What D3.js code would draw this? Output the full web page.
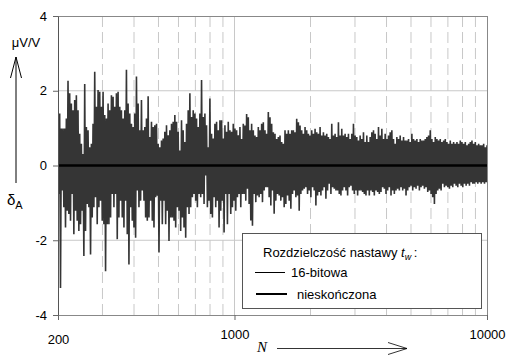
<!DOCTYPE html>
<html><head><meta charset="utf-8">
<script src="https://cdn.jsdelivr.net/npm/d3@7"></script>
<style>
html,body{margin:0;padding:0;background:#fff;}
svg{display:block;font-family:"Liberation Sans",Arial,sans-serif;}
</style></head>
<body>
<svg id="c" width="507" height="356"></svg>
<script>
// ---- data ----
const nMin = 200, nMax = 10000;
const xTickValues = [200, 1000, 10000];
const yTickValues = [-4, -2, 0, 2, 4];
const gridN = [300,400,500,600,700,800,900,2000,3000,4000,5000,6000,7000,8000,9000];
const legendTitle = "Rozdzielczość nastawy ";
const seriesNames = ["16-bitowa", "nieskończona"];
// upper / lower excursions of the 16-bit series, log-spaced samples from N=200 to N=10000
const upper16 = [
0.90,1.39,0.99,0.99,0.99,1.26,2.27,1.93,1.66,1.48,1.75,1.88,1.48,0.85,0.58,0.31,2.18,1.03,0.94,0.49,
0.58,1.12,2.51,1.57,2.02,1.97,1.57,1.97,1.35,1.26,1.66,1.48,1.88,1.84,1.57,1.93,1.97,1.57,1.48,1.26,
1.48,2.56,1.66,1.39,1.12,1.03,1.39,2.38,1.66,0.94,1.75,0.94,1.03,1.26,1.85,
0.76,1.17,1.03,1.08,1.12,0.58,0.49,0.67,0.72,0.90,1.08,0.81,0.94,1.12,1.17,1.35,1.17,0.90,0.40,1.21,
0.94,0.63,1.12,1.48,1.93,1.30,1.48,1.39,1.26,1.03,1.39,2.29,1.30,1.39,1.08,0.49,1.79,0.85,0.72,1.12,
1.17,0.94,1.21,1.21,0.72,1.08,0.90,1.17,0.94,0.90,1.12,0.99,0.94,0.81,
1.03,0.71,1.12,1.07,1.38,1.29,0.94,1.12,0.94,0.80,0.76,1.03,0.94,1.12,1.16,0.94,0.85,1.43,1.29,1.12,
0.89,0.85,0.71,0.76,0.80,0.63,0.58,0.94,0.85,0.94,0.85,0.94,0.94,0.89,1.25,1.16,1.07,0.94,0.85,1.03,
0.94,0.85,0.80,0.94,0.85,0.98,0.89,0.85,1.03,0.80,0.89,0.80,0.85,0.76,0.71,1.12,0.80,0.85,0.76,1.16,
0.80,0.98,0.80,0.85,0.76,0.85,0.71,0.85,1.12,0.80,0.76,0.67,0.80,0.71,0.89,
0.63,0.80,0.63,0.76,0.89,0.94,0.85,0.71,1.03,0.80,0.98,0.71,0.85,0.71,0.80,0.89,0.94,0.71,0.58,0.76,
0.71,0.80,0.67,0.76,0.67,0.67,0.71,0.63,0.85,0.71,0.67,0.71,0.63,0.71,0.67,0.67,0.71,0.76,0.80,0.94,
0.71,0.63,0.76,0.71,0.67,0.71,0.63,0.67,0.71,0.63,0.58,0.67,0.58,0.63,0.58,0.63,0.58,0.67,0.63,0.58,
0.63,0.54,0.58,0.63,0.67,0.58,0.63,0.54,0.58,0.54,0.54,0.58,0.49,0.54
];
const lower16 = [
-0.76,-3.28,-0.67,-1.12,-1.66,-1.21,-1.30,-1.48,-0.76,-1.84,-1.21,-1.48,-1.75,-1.57,-1.21,-2.42,-1.75,-1.03,-1.12,-2.38,
-1.39,-1.12,-0.85,-1.57,-1.12,-0.94,-1.48,-1.57,-2.83,-1.57,-1.57,-1.39,-0.76,-1.12,-0.76,-1.97,-1.39,-0.94,-1.39,-1.66,
-0.94,-1.84,-2.65,-1.12,-1.48,-1.66,-1.93,-0.67,-1.12,-0.94,-0.67,-0.94,-1.39,-1.48,-1.39,
-0.94,-1.48,-1.66,-0.85,-0.81,-2.33,-0.94,-1.57,-0.94,-1.57,-1.21,-2.02,-1.39,-1.39,-1.48,-1.66,-1.12,-1.21,-1.75,-1.39,
-1.66,-1.93,-1.12,-1.30,-1.12,-0.85,-0.76,-0.94,-1.12,-0.76,-0.85,-0.76,-1.03,-0.27,-1.12,-0.94,-1.30,-1.39,-0.85,-1.12,
-0.94,-1.66,-1.21,-0.94,-1.79,-0.76,-1.57,-0.76,-1.30,-1.12,-0.94,-1.21,-0.85,-0.76,
-1.12,-0.76,-0.76,-0.94,-0.62,-1.03,-1.47,-1.61,-0.76,-0.98,-0.80,-0.85,-0.76,-0.98,-0.67,-0.58,-0.58,-0.85,-1.07,-0.67,
-1.29,-0.94,-0.76,-0.80,-0.94,-0.85,-1.12,-1.03,-0.80,-0.94,-1.16,-0.76,-0.67,-0.85,-0.80,-1.21,-0.76,-0.67,-0.62,-0.58,
-0.76,-0.67,-0.85,-0.58,-0.67,-1.07,-0.80,-0.71,-0.80,-0.67,-0.58,-0.89,-0.67,-0.49,-0.76,-0.58,-0.62,-0.67,-0.67,-0.76,
-0.80,-0.67,-0.58,-0.67,-0.80,-0.58,-0.54,-0.67,-0.76,-0.67,-0.80,-0.67,-0.67,-0.71,-0.76,
-0.80,-0.67,-0.80,-0.67,-0.71,-0.80,-0.67,-0.71,-0.76,-0.71,-0.58,-0.62,-0.76,-0.67,-0.58,-0.80,-0.67,-0.76,-0.67,-0.62,
-0.67,-0.58,-0.67,-0.62,-0.80,-0.67,-0.58,-0.54,-0.67,-0.58,-0.62,-0.54,-0.67,-0.58,-0.54,-0.62,-0.58,-0.71,-0.67,-0.76,
-0.85,-1.03,-0.76,-0.67,-0.62,-0.67,-0.49,-0.58,-0.54,-0.58,-0.62,-0.54,-0.58,-0.49,-0.54,-0.58,-0.49,-0.54,-0.58,-0.49,
-0.54,-0.49,-0.54,-0.45,-0.49,-0.49,-0.45,-0.49,-0.45,-0.49,-0.45,-0.49,-0.45,-0.45
];
const idealN = [200, 10000];
const idealV = [0, 0];

// ---- chart ----
const svg = d3.select("#c");
const L = 58, R = 487, T = 16, B = 315;
const x = d3.scaleLog().domain([nMin, nMax]).range([L, R]);
const y = d3.scaleLinear().domain([-4, 4]).range([B, T]);

svg.append("defs").append("clipPath").attr("id","clip")
  .append("rect").attr("x",L).attr("y",T).attr("width",R-L).attr("height",B-T);

// grid
const grid = svg.append("g");
grid.selectAll("line.v").data(gridN).join("line")
  .attr("x1",d=>x(d)).attr("x2",d=>x(d)).attr("y1",T).attr("y2",B)
  .attr("stroke","#c8c8c8").attr("stroke-width",1).attr("stroke-dasharray","11,5");
grid.append("line").attr("x1",x(1000)).attr("x2",x(1000)).attr("y1",T).attr("y2",B)
  .attr("stroke","#c8c8c8").attr("stroke-width",1);
grid.selectAll("line.h").data([-2,2]).join("line")
  .attr("x1",L).attr("x2",R).attr("y1",d=>y(d)).attr("y2",d=>y(d))
  .attr("stroke","#c8c8c8").attr("stroke-width",1);

// 16-bit series as a zig-zag between excursions
const count = upper16.length;
const sampleN = d3.range(count).map(i => nMin * Math.pow(nMax/nMin, i/(count-1)));
const pts = [];
for (let i = 0; i < count; i++) {
  pts.push([sampleN[i], upper16[i]]);
  const mid = i < count-1 ? Math.sqrt(sampleN[i]*sampleN[i+1]) : sampleN[i];
  pts.push([mid, lower16[i]]);
}
const line = d3.line().x(d=>x(d[0])).y(d=>y(d[1]));
const plot = svg.append("g").attr("clip-path","url(#clip)");
plot.append("path").attr("d", line(pts)).attr("fill","none")
  .attr("stroke","#353535").attr("stroke-width",1.6).attr("stroke-linejoin","bevel");
plot.append("path").attr("d", line(idealN.map((n,i)=>[n, idealV[i]]))).attr("fill","none")
  .attr("stroke","#000").attr("stroke-width",2.5);

// frame
svg.append("line").attr("x1",L).attr("x2",R).attr("y1",T+0.5).attr("y2",T+0.5).attr("stroke","#888");
svg.append("line").attr("x1",R+0.5).attr("x2",R+0.5).attr("y1",T).attr("y2",B).attr("stroke","#888");

// axes
const yAxis = svg.append("g").attr("transform",`translate(${L},0)`)
  .call(d3.axisLeft(y).tickValues(yTickValues).tickSize(5).tickSizeOuter(0).tickPadding(6).tickFormat(d=>String(d)));
yAxis.select(".domain").attr("stroke","#555");
yAxis.selectAll(".tick line").attr("stroke","#666");
yAxis.selectAll("text").attr("font-size",13).attr("fill","#000")
  .attr("font-family","'Liberation Sans',Arial,sans-serif");

const xAxis = svg.append("g").attr("transform",`translate(0,${B})`)
  .call(d3.axisBottom(x).tickValues(xTickValues).tickSize(5).tickSizeOuter(0).tickPadding(6).tickFormat(d=>String(d)));
xAxis.select(".domain").attr("stroke","#888");
xAxis.selectAll(".tick line").attr("stroke","#666");
xAxis.selectAll("text").attr("font-size",13).attr("fill","#000")
  .attr("font-family","'Liberation Sans',Arial,sans-serif")
  .attr("dy",0).attr("y",d => d === 200 ? 29 : 24);

// y label and arrow
svg.append("text").attr("x",26).attr("y",47).attr("text-anchor","middle")
  .attr("font-size",13).text("μV/V");
svg.append("line").attr("x1",16).attr("x2",16).attr("y1",183).attr("y2",57).attr("stroke","#000").attr("stroke-width",1);
svg.append("path").attr("d","M10.5,78 L16,57 L21.5,78").attr("fill","none").attr("stroke","#000").attr("stroke-width",1);
const dl = svg.append("text").attr("x",7).attr("y",205).attr("font-size",15);
dl.append("tspan").text("δ");
dl.append("tspan").attr("font-size",11).attr("dy",4).text("A");

// x label and arrow
svg.append("text").attr("x",257).attr("y",352).attr("font-size",15)
  .attr("font-family","'Liberation Serif','Times New Roman',serif").attr("font-style","italic").text("N");
svg.append("line").attr("x1",277).attr("x2",407).attr("y1",348.5).attr("y2",348.5).attr("stroke","#000").attr("stroke-width",0.8);
svg.append("path").attr("d","M388,342.5 L407,348.5 L388,354.5").attr("fill","none").attr("stroke","#000").attr("stroke-width",0.8);

// legend
const lg = svg.append("g");
lg.append("rect").attr("x",242.5).attr("y",233.5).attr("width",239).attr("height",75)
  .attr("fill","#fff").attr("stroke","#555").attr("stroke-width",1);
const tt = lg.append("text").attr("x",263).attr("y",257).attr("font-size",13);
tt.append("tspan").text(legendTitle);
tt.append("tspan").attr("font-style","italic").text("t");
tt.append("tspan").attr("font-style","italic").attr("font-size",9).attr("dy",3).text("w");
tt.append("tspan").attr("dy",-3).text("\u2009:");
lg.append("line").attr("x1",255).attr("x2",285).attr("y1",272.5).attr("y2",272.5).attr("stroke","#000").attr("stroke-width",1);
lg.append("text").attr("x",291).attr("y",277).attr("font-size",13).text(seriesNames[0]);
lg.append("line").attr("x1",256).attr("x2",287).attr("y1",294).attr("y2",294).attr("stroke","#000").attr("stroke-width",2);
lg.append("text").attr("x",297).attr("y",298.5).attr("font-size",13).text(seriesNames[1]);
</script>
</body></html>
